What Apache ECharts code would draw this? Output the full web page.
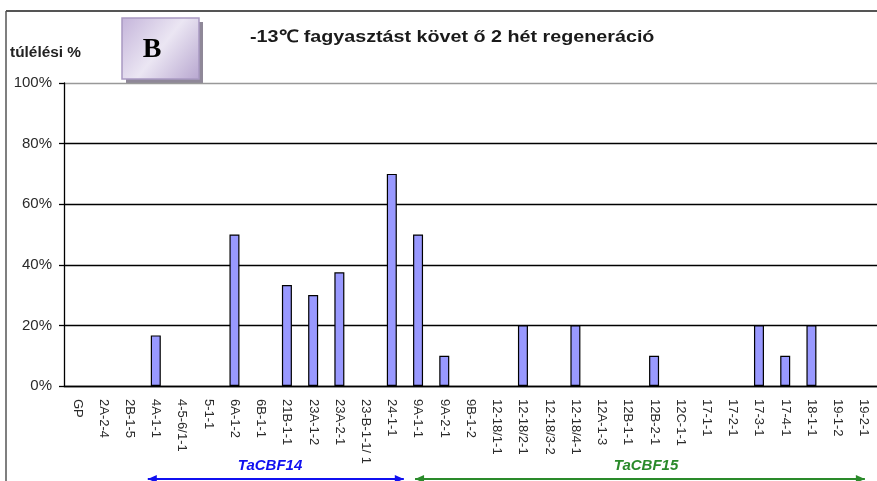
<!DOCTYPE html>
<html>
<head>
<meta charset="utf-8">
<script src="https://cdn.jsdelivr.net/npm/echarts@6/dist/echarts.min.js"></script>
<style>
  html, body { margin: 0; padding: 0; background: #fff; }
  #chart { width: 877px; height: 481px; }
</style>
</head>
<body>
<div id="chart"></div>
<script>
  // kategóriák (vonalak)
  var categories = ['GP', '2A-2-4', '2B-1-5', '4A-1-1', '4-5-6/1-1', '5-1-1', '6A-1-2', '6B-1-1',
    '21B-1-1', '23A-1-2', '23A-2-1', '23-B-1-1/ 1', '24-1-1', '9A-1-1', '9A-2-1', '9B-1-2',
    '12-18/1-1', '12-18/2-1', '12-18/3-2', '12-18/4-1', '12A-1-3', '12B-1-1', '12B-2-1',
    '12C-1-1', '17-1-1', '17-2-1', '17-3-1', '17-4-1', '18-1-1', '19-1-2', '19-2-1'];
  // túlélés %
  var survival = [0, 0, 0, 16.7, 0, 0, 50, 0, 33.3, 30, 37.5, 0, 70, 50, 10, 0,
    0, 20, 0, 20, 0, 0, 10, 0, 0, 0, 20, 10, 20, 0, 0];
  var yTicks = [0, 20, 40, 60, 80, 100];
  // csoportok: [név, első kategória, utolsó kategória, szín]
  var groups = [
    ['TaCBF14', '4A-1-1', '24-1-1', '#1010f0'],
    ['TaCBF15', '9A-1-1', '19-2-1', '#2a8a2a']
  ];

  var chart = echarts.init(document.getElementById('chart'));

  // 0 értéknél ne legyen keret
  var barData = survival.map(function (v) {
    return v > 0 ? v : { value: v, itemStyle: { borderWidth: 0 } };
  });

  var option = {
    animation: false,
    grid: { left: 64, top: 83, right: -2, bottom: 95 },
    xAxis: {
      type: 'category',
      data: categories,
      boundaryGap: true,
      axisLine: { lineStyle: { color: '#000', width: 1.3 } },
      axisTick: { alignWithLabel: false, length: 4, lineStyle: { color: '#000', width: 1.3 } },
      axisLabel: {
        interval: 0, rotate: -90, margin: 13,
        fontFamily: 'Liberation Sans', fontSize: 13, color: '#2a2a2a'
      }
    },
    yAxis: {
      type: 'value',
      min: yTicks[0], max: yTicks[yTicks.length - 1], interval: 20,
      axisLine: { show: true, lineStyle: { color: '#000', width: 1.3 } },
      axisTick: { show: true, length: 5, lineStyle: { color: '#000', width: 1.3 } },
      axisLabel: {
        formatter: '{value}%', margin: 12,
        fontFamily: 'Liberation Sans', fontSize: 15, color: '#2a2a2a'
      },
      splitLine: {
        lineStyle: { color: ['#000', '#000', '#000', '#000', '#000', '#999'], width: 1.4 }
      }
    },
    series: [{
      type: 'bar',
      data: barData,
      barWidth: 10,
      itemStyle: { color: '#9999ff', borderColor: '#000', borderWidth: 1.2 }
    }],
    graphic: [
      // keret
      { type: 'line', shape: { x1: 6, y1: 11, x2: 877, y2: 11 }, style: { stroke: '#555', lineWidth: 2 } },
      { type: 'line', shape: { x1: 6, y1: 11, x2: 6, y2: 481 }, style: { stroke: '#555', lineWidth: 1.5 } },
      { type: 'text', x: 10, y: 53, scaleX: 1.1,
        style: { text: 'túlélési %', font: 'bold 14px "Liberation Sans"', fill: '#222', verticalAlign: 'middle' } },
      { type: 'text', x: 250, y: 37, scaleX: 1.16,
        style: { text: '-13\u2103 fagyasztást követ ő 2 hét regeneráció', font: 'bold 17px "Liberation Sans"', fill: '#1a1a1a', verticalAlign: 'middle' } },
      // "B" doboz
      { type: 'rect', shape: { x: 126, y: 22, width: 77, height: 61 }, style: { fill: '#8f8898' } },
      { type: 'rect', shape: { x: 122, y: 18, width: 77, height: 61 },
        style: {
          fill: new echarts.graphic.LinearGradient(0, 0, 1, 1, [
            { offset: 0, color: '#c4b4da' },
            { offset: 0.5, color: '#ebe6f3' },
            { offset: 1, color: '#b7a6cf' }
          ]),
          stroke: '#a999c2', lineWidth: 1.5
        } },
      { type: 'text', x: 152, y: 50,
        style: { text: 'B', font: 'bold 28px "Liberation Serif"', fill: '#000', align: 'center', verticalAlign: 'middle' } }
    ]
  };

  chart.setOption(option);

  // csoport nyilak a kategóriatengely alatt
  var extra = [];
  var arrowY = 479;
  groups.forEach(function (g, i) {
    var x1 = chart.convertToPixel({ xAxisIndex: 0 }, g[1]) - (i === 0 ? 8 : 3);
    var x2 = chart.convertToPixel({ xAxisIndex: 0 }, g[2]) + (i === 0 ? 12 : 1);
    extra.push({ type: 'line', shape: { x1: x1, y1: arrowY, x2: x2, y2: arrowY },
      style: { stroke: g[3], lineWidth: 2 } });
    extra.push({ type: 'polygon', shape: { points: [[x1, arrowY], [x1 + 9, arrowY - 4], [x1 + 9, arrowY + 4]] },
      style: { fill: g[3] } });
    extra.push({ type: 'polygon', shape: { points: [[x2, arrowY], [x2 - 9, arrowY - 4], [x2 - 9, arrowY + 4]] },
      style: { fill: g[3] } });
    extra.push({ type: 'text', x: (i === 0 ? 270 : 646), y: 466,
      style: { text: g[0], font: 'italic bold 15px "Liberation Sans"', fill: g[3], align: 'center', verticalAlign: 'middle' } });
  });
  chart.setOption({ graphic: option.graphic.concat(extra) });
</script>
</body>
</html>
